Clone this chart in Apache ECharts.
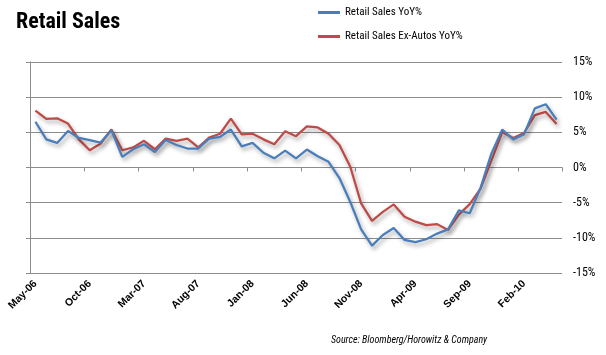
<!DOCTYPE html>
<html>
<head>
<meta charset="utf-8">
<script src="https://cdn.jsdelivr.net/npm/echarts@6/dist/echarts.min.js"></script>
<style>html,body{margin:0;padding:0;background:#fff;}#c{width:606px;height:355px;}</style>
</head>
<body>
<div id="c"></div>
<script>
var categories = ['May-06','Jun-06','Jul-06','Aug-06','Sep-06','Oct-06','Nov-06','Dec-06',
  'Jan-07','Feb-07','Mar-07','Apr-07','May-07','Jun-07','Jul-07','Aug-07','Sep-07','Oct-07','Nov-07','Dec-07',
  'Jan-08','Feb-08','Mar-08','Apr-08','May-08','Jun-08','Jul-08','Aug-08','Sep-08','Oct-08','Nov-08','Dec-08',
  'Jan-09','Feb-09','Mar-09','Apr-09','May-09','Jun-09','Jul-09','Aug-09','Sep-09','Oct-09','Nov-09','Dec-09',
  'Jan-10','Feb-10','Mar-10','Apr-10','May-10'];
var retailSales = [6.5,4.0,3.5,5.2,4.2,3.9,3.55,5.3,
  1.5,2.6,3.3,2.2,3.9,3.2,2.7,2.7,4.1,4.35,5.4,3.0,
  3.5,2.1,1.3,2.4,1.3,2.55,1.6,0.8,-1.5,-4.9,-8.8,-11.1,
  -9.6,-8.6,-10.3,-10.6,-10.2,-9.4,-8.8,-6.1,-6.5,-2.9,2.0,5.4,
  4.0,4.7,8.4,9.0,6.8];
var retailExAutos = [8.1,6.9,7.0,6.25,4.0,2.45,3.4,5.4,
  2.45,2.85,3.8,2.6,4.1,3.8,4.1,2.85,4.25,4.8,6.95,4.7,
  4.8,4.0,3.3,5.15,4.45,5.85,5.7,4.8,3.2,0.1,-5.1,-7.6,
  -6.3,-5.25,-7.0,-7.7,-8.2,-8.05,-8.9,-6.7,-5.2,-3.0,1.0,5.05,
  4.2,4.9,7.45,7.9,6.2];
var seriesNames = ['Retail Sales YoY%','Retail Sales Ex-Autos YoY%'];
var yTicks = {min:-15, max:15, interval:5};

var narrow = '"Liberation Sans Narrow", "Roboto Condensed", "Liberation Sans", sans-serif';
var gridColor = '#8c8c8c';
var chart = echarts.init(document.getElementById('c'), null, {renderer:'canvas'});
var shadow = {shadowColor:'rgba(0,0,0,0.35)', shadowBlur:4, shadowOffsetX:2, shadowOffsetY:3};
chart.setOption({
  animation:false,
  title:[{text:'Retail Sales', left:16, top:11, padding:0,
    textStyle:{fontFamily:narrow, fontWeight:'bold', fontSize:22, color:'#000'}}],
  graphic:[{type:'text', left:331, top:335,
    style:{text:'Source: Bloomberg/Horowitz & Company', fontFamily:narrow, fontStyle:'italic', fontSize:10, fill:'#000'}}],
  legend:{orient:'vertical', left:318, top:7, padding:0, itemGap:13, itemWidth:22, itemHeight:3,
    icon:'rect', textStyle:{fontFamily:narrow, fontSize:11, color:'#000'},
    data:seriesNames},
  grid:{left:30, right:44, top:62, bottom:82, containLabel:false},
  xAxis:[{type:'category', data:categories, boundaryGap:true, position:'bottom',
      axisLine:{show:false, onZero:false}, axisTick:{show:false},
      axisLabel:{interval:4, rotate:45, margin:9, fontFamily:'"Liberation Sans", Arial, sans-serif', fontWeight:'bold', fontSize:10.5, color:'#000'}},
    {type:'category', data:categories, boundaryGap:true, position:'bottom',
      axisLine:{show:true, onZero:true, lineStyle:{color:gridColor, width:1}},
      axisTick:{show:true, interval:4, length:4, lineStyle:{color:gridColor}},
      axisLabel:{show:false}, splitLine:{show:false}}],
  yAxis:[{type:'value', position:'right', min:yTicks.min, max:yTicks.max, interval:yTicks.interval,
      axisLine:{show:false}, axisTick:{show:false},
      axisLabel:{margin:11, fontFamily:narrow, fontSize:12, color:'#000', formatter:'{value}%'},
      splitLine:{show:true, lineStyle:{color:gridColor, width:1}}},
    {type:'value', position:'left', min:yTicks.min, max:yTicks.max, interval:yTicks.interval,
      axisLine:{show:true, onZero:false, lineStyle:{color:gridColor, width:1}},
      axisTick:{show:true, length:4, lineStyle:{color:gridColor}},
      axisLabel:{show:false}, splitLine:{show:false}}],
  series:[
    {name:seriesNames[0], type:'line', xAxisIndex:0, yAxisIndex:0, data:retailSales, symbol:'none',
      color:'#4a7ebb', lineStyle:Object.assign({color:'#4a7ebb', width:2.25}, shadow), z:3},
    {name:seriesNames[1], type:'line', xAxisIndex:0, yAxisIndex:0, data:retailExAutos, symbol:'none',
      color:'#be4b48', lineStyle:Object.assign({color:'#be4b48', width:2.25}, shadow), z:2}
  ]
});
</script>
</body>
</html>
